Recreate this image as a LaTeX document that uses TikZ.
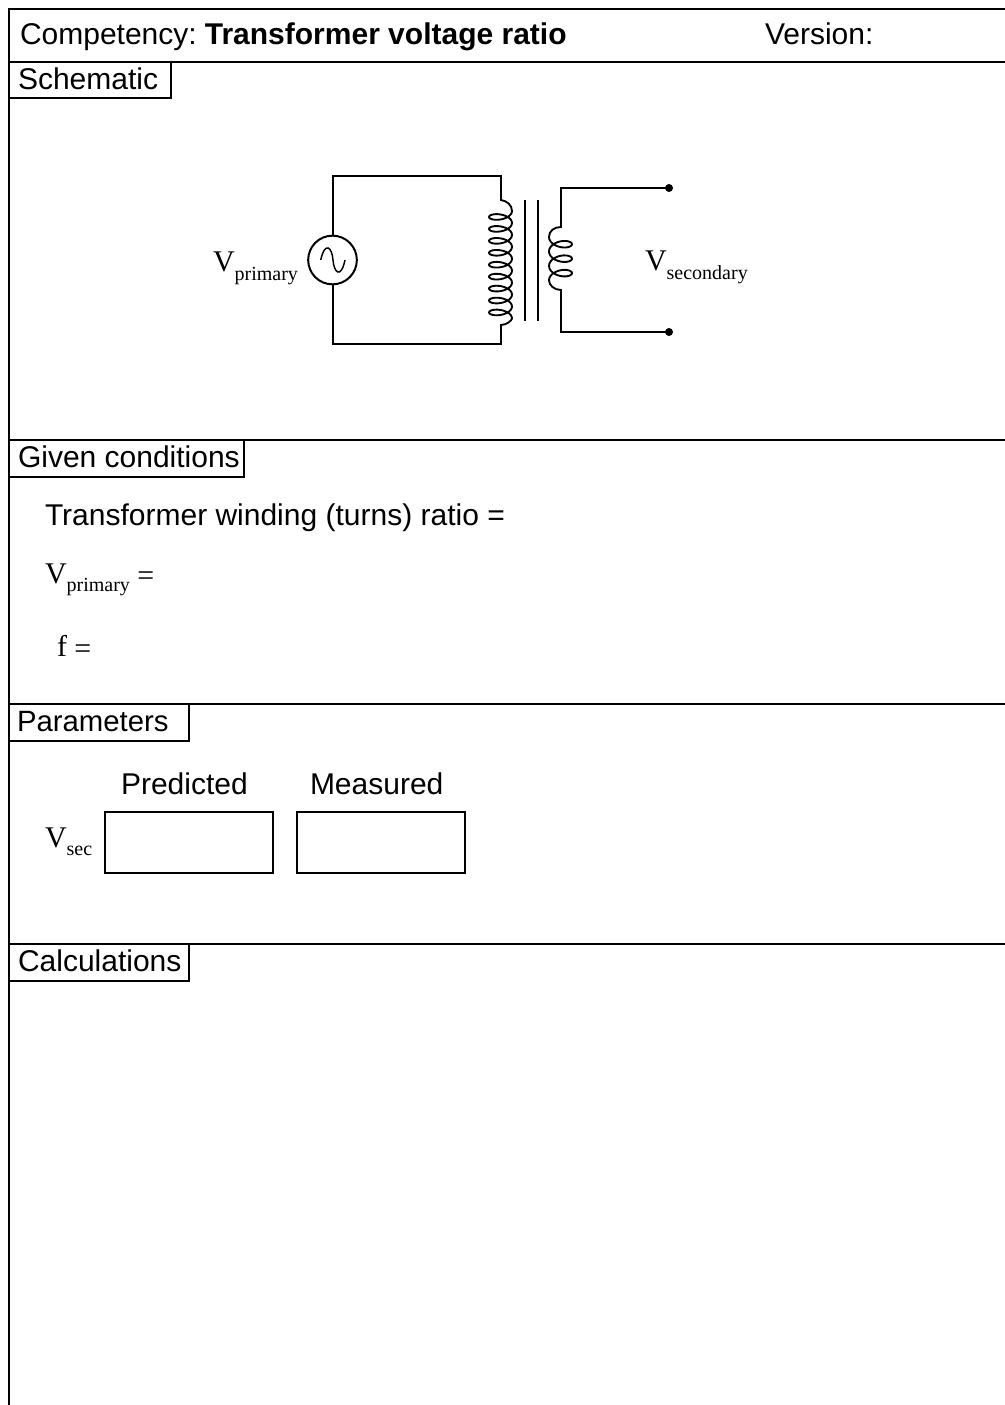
\documentclass[tikz,border=0pt]{standalone}
\usepackage{fontspec}
\setmainfont{Liberation Sans}
\newfontfamily\serifface{Liberation Serif}
\tikzset{
 x=0.75pt,y=-0.75pt,
 wire/.style={line width=1.5pt,line cap=rect,line join=miter},
 lab/.style={inner sep=0pt,outer sep=0pt,anchor=base west,font=\fontsize{22.5}{26}\selectfont},
 sym/.style={inner sep=0pt,outer sep=0pt,anchor=base west,font=\serifface\fontsize{22.5}{26}\selectfont},
 termdot/.style={circle,fill=black,inner sep=0pt,minimum size=6pt},
 entrybox/.style={draw,line width=1.5pt,inner sep=0pt,anchor=north west,minimum width=126pt,minimum height=45.5pt},
}
\newcommand{\subsc}[1]{\raisebox{-6.4pt}{\fontsize{15}{18}\selectfont #1}}
\newcommand{\loweq}{\raisebox{-2.2pt}{=}}
\begin{document}
\begin{tikzpicture}
\useasboundingbox (0,0) rectangle (1004,1405);
% frame
\draw[wire] (9,1405) -- (9,9) -- (1004,9);
\draw[wire] (9,62) -- (1004,62);
\draw[wire] (9,440) -- (1004,440);
\draw[wire] (9,704) -- (1004,704);
\draw[wire] (9,944) -- (1004,944);
% tabs
\draw[wire] (171,62) -- (171,98) -- (9,98);
\draw[wire] (244,440) -- (244,477) -- (9,477);
\draw[wire] (189,704) -- (189,741) -- (9,741);
\draw[wire] (189,944) -- (189,981) -- (9,981);
% header
\node[lab] (comp) at (20,45) {Competency:\hspace{6.1pt}\textbf{Transformer voltage ratio}};
\node[lab] (ver) at (765,45) {Version:};
\node[lab] (t1) at (18,90) {Schematic};
\node[lab] (t2) at (18,467) {Given conditions};
\node[lab,font=\fontsize{22}{26}\selectfont] (t3) at (17,731) {Parameters};
\node[lab] (t4) at (18,971) {Calculations};
% given
\node[lab] (turns) at (45,525) {Transformer winding (turns) ratio =};
\node[sym] (vp) at (45,583) {V\subsc{primary} \loweq};
\node[sym] (ff) at (57,656) {f \loweq};
% parameters
\node[lab] (pred) at (121,794) {Predicted};
\node[lab] (meas) at (310,794) {Measured};
\node[sym] (vs) at (45,847) {V\subsc{sec}};
\node[entrybox] (b1) at (104,811) {};
\node[entrybox] (b2) at (296,811) {};
% schematic
\node[sym] (lp) at (213,272) {V\subsc{primary}};
\node[sym] (ls) at (645,271) {V\subsc{secondary}};
\node[circle,draw,line width=1.5pt,inner sep=0pt,minimum size=36.5pt] (src) at (332.5,260) {};
\draw[line width=1.1pt] (320.7,260) .. controls (325,241) and (332,247) .. (333,260) .. controls (334,273) and (341,279) .. (345,260);
\coordinate (ptop) at (501,200);
\coordinate (pbot) at (501,325);
\coordinate (stop) at (561,227);
\coordinate (sbot) at (561,290);
\node[termdot] (d1) at (669,188) {};
\node[termdot] (d2) at (669,332) {};
\draw[wire] (src.north) |- (501,176) -- (ptop);
\draw[wire] (src.south) |- (501,344) -- (pbot);
\draw[wire] (stop) -- (561,188) -- (d1);
\draw[wire] (sbot) -- (561,332) -- (d2);
% coils
\draw[line width=1.4pt,line join=round] (ptop) .. controls (507,201) and (512,205) .. (512,211)
 plot[smooth,samples=217,domain=0:56.549] ({500.5+11.5*cos(\x r)},{211+1.9*\x+5.5*sin(\x r)})
 .. controls (512,320) and (507,325) .. (pbot);
\draw[line width=1.4pt,line join=round] (stop) .. controls (554,227) and (549,231) .. (549,237)
 plot[smooth,samples=73,domain=0:18.85] ({560.5-11.5*cos(\x r)},{237+2.3*\x+6.5*sin(\x r)})
 .. controls (549,285) and (554,290) .. (sbot);
% core
\coordinate (c1t) at (525,200); \coordinate (c1b) at (525,321);
\coordinate (c2t) at (537.5,200); \coordinate (c2b) at (537.5,321);
\draw[wire,line cap=butt] (c1t) -- (c1b);
\draw[wire,line cap=butt] (c2t) -- (c2b);
\end{tikzpicture}
\end{document}
